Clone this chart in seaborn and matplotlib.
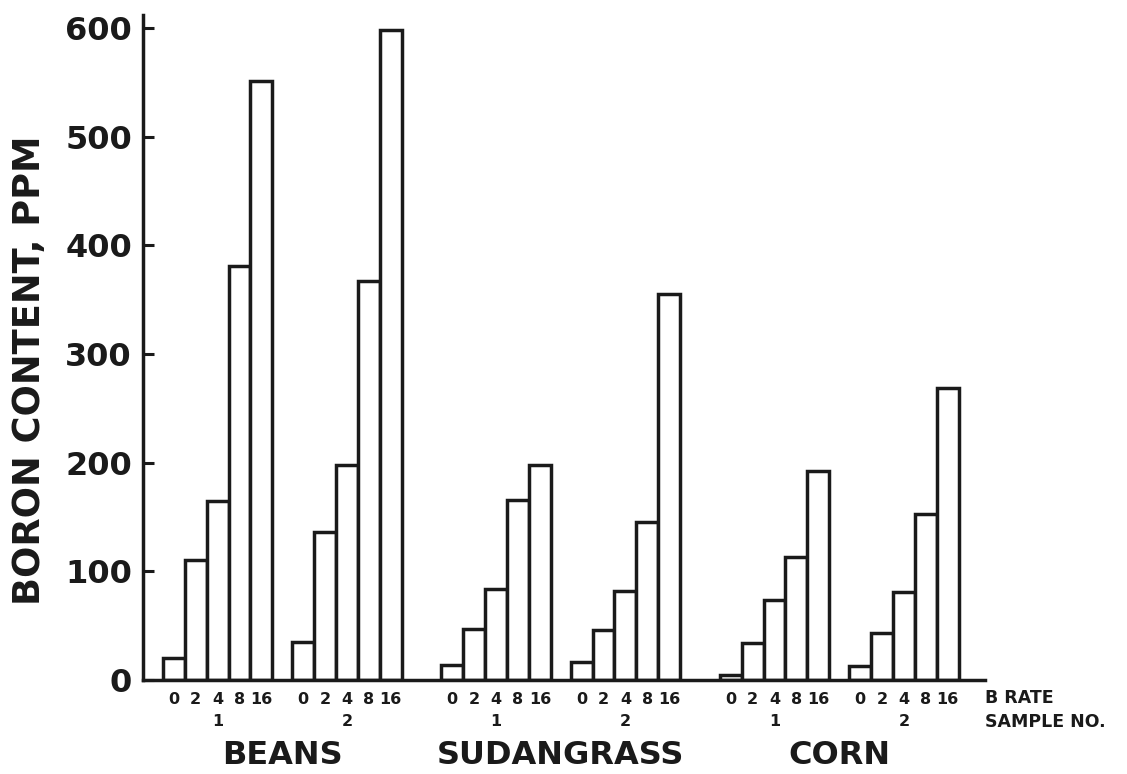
import numpy as np
import pandas as pd
import matplotlib
matplotlib.use("Agg")
import matplotlib.pyplot as plt
import matplotlib.transforms as mtransforms
import seaborn as sns

# ---- data ----
crops = ["BEANS", "SUDANGRASS", "CORN"]
samples = ["1", "2"]
b_rates = ["0", "2", "4", "8", "16"]
beans_s1 = [20, 110, 165, 381, 551]
beans_s2 = [35, 136, 198, 367, 598]
sudan_s1 = [14, 47, 84, 166, 198]
sudan_s2 = [17, 46, 82, 145, 355]
corn_s1 = [5, 34, 74, 113, 192]
corn_s2 = [13, 43, 81, 153, 269]
y_ticks = [0, 100, 200, 300, 400, 500, 600]

series = {("BEANS", "1"): beans_s1, ("BEANS", "2"): beans_s2,
          ("SUDANGRASS", "1"): sudan_s1, ("SUDANGRASS", "2"): sudan_s2,
          ("CORN", "1"): corn_s1, ("CORN", "2"): corn_s2}

# ---- layout (in bar-width units) ----
start = 0.9
sample_gap = 0.9
crop_gap = 1.8

rows = []
x = start
for ci, crop in enumerate(crops):
    for si, s in enumerate(samples):
        for ri, r in enumerate(b_rates):
            rows.append(dict(crop=crop, sample=s, rate=r,
                             boron=series[(crop, s)][ri], pos=x + ri + 0.5))
        x += len(b_rates)
        if si < len(samples) - 1:
            x += sample_gap
    if ci < len(crops) - 1:
        x += crop_gap
x_end = x + 1.2
df = pd.DataFrame(rows)

sns.set_theme(style="white")
plt.rcParams['font.family'] = ['DejaVu Sans']

fig = plt.figure(figsize=(11.27, 7.74), dpi=100)
ax = fig.add_axes([143/1127, 94/774, (985-143)/1127, (680-15)/774])

sns.barplot(data=df, x="pos", y="boron", native_scale=True, width=1.0,
            color="white", edgecolor="#1a1a1a", linewidth=2.5,
            saturation=1, errorbar=None, ax=ax)

ax.set_xlim(0, x_end)
ax.set_ylim(0, 612)
ax.set_yticks(y_ticks)
ax.set_yticklabels([str(v) for v in y_ticks], fontsize=23, fontweight="bold",
                   color="#1a1a1a")
ax.tick_params(axis="y", direction="in", length=8, width=2.2, pad=8,
               color="#1a1a1a", left=True)
ax.set_xticks(df["pos"].tolist())
ax.set_xticklabels(df["rate"].tolist(), fontsize=11.5, fontweight="bold",
                   color="#1a1a1a")
ax.tick_params(axis="x", length=0, pad=9)
ax.set_xlabel("")
ax.set_ylabel("")
for sp in ["top", "right"]:
    ax.spines[sp].set_visible(False)
for sp in ["left", "bottom"]:
    ax.spines[sp].set_linewidth(2.5)
    ax.spines[sp].set_color("#1a1a1a")

trans = mtransforms.blended_transform_factory(ax.transData, fig.transFigure)
# sample numbers and crop names
for crop in crops:
    sub = df[df.crop == crop]
    for s in samples:
        ss = sub[sub["sample"] == s]
        ax.text(ss["pos"].mean(), 1 - 722/774, s, transform=trans,
                ha="center", va="center", fontsize=11.5, fontweight="bold",
                color="#1a1a1a")
    ax.text(sub["pos"].mean(), 1 - 755/774, crop, transform=trans,
            ha="center", va="center", fontsize=23, fontweight="bold",
            color="#1a1a1a")

fig.text(985/1127, 1 - 698/774, "B RATE", ha="left", va="center",
         fontsize=12.5, fontweight="bold", color="#1a1a1a")
fig.text(985/1127, 1 - 722/774, "SAMPLE NO.", ha="left", va="center",
         fontsize=12.5, fontweight="bold", color="#1a1a1a")

fig.text(30/1127, 1 - 370/774, "BORON CONTENT, PPM", rotation=90,
         ha="center", va="center", fontsize=26.5, fontweight="bold",
         color="#1a1a1a")

fig.savefig("out.png", dpi=100, facecolor="white")
